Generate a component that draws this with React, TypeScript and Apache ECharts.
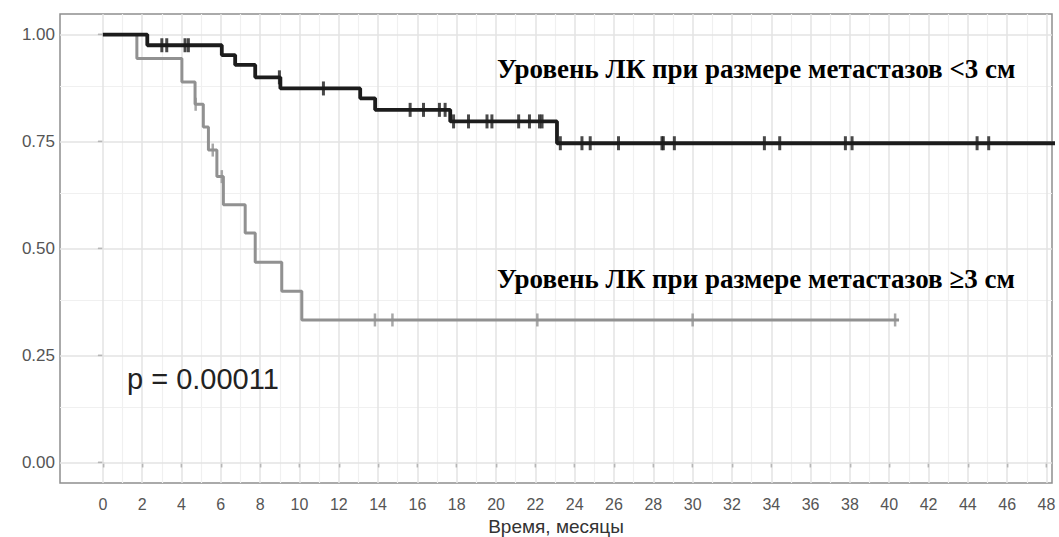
import React, { useEffect, useRef } from "react";
import * as echarts from "echarts";

// Kaplan–Meier step points [month, survival]
const smallSteps: number[][] = [
  [0, 1], [2.26, 0.975], [6.05, 0.952], [6.73, 0.929], [7.75, 0.9], [9.03, 0.874],
  [13.09, 0.851], [13.85, 0.824], [17.67, 0.797], [23.1, 0.746], [50, 0.746],
];
const smallCensor: number[][] = [
  [3.0, 0.975], [3.25, 0.975], [4.18, 0.975], [4.35, 0.975],
  [8.98, 0.9], [11.22, 0.874],
  [15.63, 0.824], [16.31, 0.824], [17.12, 0.824], [17.41, 0.824],
  [17.84, 0.797], [18.6, 0.797], [19.54, 0.797], [19.79, 0.797], [21.15, 0.797], [21.7, 0.797], [22.21, 0.797], [22.34, 0.797],
  [23.27, 0.746], [24.37, 0.746], [24.79, 0.746], [26.23, 0.746], [28.44, 0.746], [28.51, 0.746], [29.07, 0.746],
  [33.65, 0.746], [34.43, 0.746], [37.77, 0.746], [38.11, 0.746], [44.47, 0.746], [45.06, 0.746],
];
const largeSteps: number[][] = [
  [0, 1], [1.73, 0.944], [4.02, 0.889], [4.69, 0.837], [5.11, 0.784], [5.37, 0.73],
  [5.8, 0.668], [6.13, 0.602], [7.24, 0.536], [7.75, 0.468], [9.1, 0.4], [10.12, 0.333], [40.5, 0.333],
];
const largeCensor: number[][] = [
  [4.72, 0.837], [5.59, 0.73], [6.05, 0.668],
  [13.84, 0.333], [14.73, 0.333], [22.1, 0.333], [30.0, 0.333], [40.3, 0.333],
];

const xTicks: number[] = Array.from({ length: 25 }, (_, i) => i * 2);
const xMinor: number[] = Array.from({ length: 24 }, (_, i) => i * 2 + 1);
const yTicks: number[] = [0, 0.25, 0.5, 0.75, 1];
const yMinor: number[] = [0.125, 0.375, 0.625, 0.875];

const labelSmall = "Уровень ЛК при размере метастазов <3 см";
const labelLarge = "Уровень ЛК при размере метастазов ≥3 см";
const pText = "p = 0.00011";
const xTitle = "Время, месяцы";

export default function App() {
  const ref = useRef<HTMLDivElement>(null);
  useEffect(() => {
    const chart = echarts.init(ref.current!, null, { renderer: "svg" });
    const minorStyle = { color: "#f0f0f0", width: 1.2, type: "solid" };
    const majorStyle = { color: "#e3e3e3", width: 1.5, type: "solid" };
    const gridLines = [
      ...xMinor.map((v) => ({ xAxis: v, lineStyle: minorStyle })),
      ...yMinor.map((v) => ({ yAxis: v, lineStyle: minorStyle })),
      ...xTicks.map((v) => ({ xAxis: v, lineStyle: majorStyle })),
      ...yTicks.map((v) => ({ yAxis: v, lineStyle: majorStyle })),
    ];
    const sans = "'Liberation Sans', Arial, sans-serif";
    const serifBold = "bold 27px 'Liberation Serif', 'Times New Roman', serif";
    chart.setOption({
      animation: false,
      grid: {
        left: 60, top: 14, width: 992, height: 469,
        containLabel: false, outerBoundsMode: "none",
        show: true, borderColor: "#8f8f8f", borderWidth: 1.5, backgroundColor: "#fff",
      },
      xAxis: {
        type: "value", min: -2.18, max: 48.28,
        axisLine: { show: false },
        splitLine: { show: false },
        axisTick: { show: true, customValues: xTicks, length: 5, lineStyle: { color: "#333", width: 1.3 } },
        axisLabel: { customValues: xTicks, color: "#555", fontSize: 16, margin: 13, fontFamily: sans },
        name: xTitle, nameLocation: "middle", nameGap: 33,
        nameTextStyle: { color: "#333", fontSize: 19, fontFamily: sans, verticalAlign: "top" },
      },
      yAxis: {
        type: "value", min: -0.048, max: 1.048,
        axisLine: { show: false },
        splitLine: { show: false },
        axisTick: { show: true, customValues: yTicks, length: 5, lineStyle: { color: "#333", width: 1.3 } },
        axisLabel: {
          customValues: yTicks, color: "#555", fontSize: 17, margin: 5, fontFamily: sans,
          formatter: (v: number) => v.toFixed(2),
        },
      },
      series: [
        {
          type: "line", data: [], silent: true, z: 0,
          markLine: { silent: true, z: 1, symbol: "none", label: { show: false }, data: gridLines, animation: false },
        },
        {
          type: "line", data: largeSteps, step: "end", symbol: "none", z: 3,
          lineStyle: { color: "#919191", width: 3 },
        },
        {
          type: "scatter", data: largeCensor, symbol: "rect", symbolSize: [2.5, 13], z: 3,
          itemStyle: { color: "#919191" },
        },
        {
          type: "line", data: smallSteps, step: "end", symbol: "none", z: 4,
          lineStyle: { color: "#1c1c1c", width: 3.8 },
        },
        {
          type: "scatter", data: smallCensor, symbol: "rect", symbolSize: [3, 14], z: 4,
          itemStyle: { color: "#1c1c1c" },
        },
      ],
      graphic: [
        {
          type: "text", x: 497, y: 69, z: 10,
          style: { text: labelSmall, fill: "#000", font: serifBold, verticalAlign: "middle" },
        },
        {
          type: "text", x: 497, y: 279, z: 10,
          style: { text: labelLarge, fill: "#000", font: serifBold, verticalAlign: "middle" },
        },
        {
          type: "text", x: 127, y: 379, z: 10,
          style: { text: pText, fill: "#222", font: "29px " + sans, verticalAlign: "middle" },
        },
      ],
    });
    return () => chart.dispose();
  }, []);
  return (
    <div
      ref={ref}
      style={{ position: "fixed", left: 0, top: 0, width: 1059, height: 537, background: "#fff" }}
    />
  );
}
